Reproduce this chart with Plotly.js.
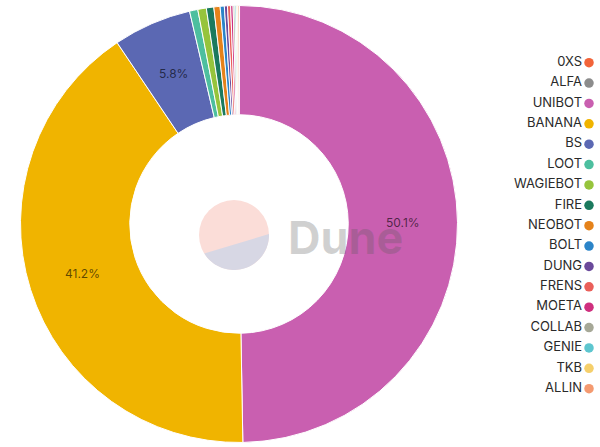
<!DOCTYPE html>
<html>
<head>
<meta charset="utf-8">
<script src="https://cdn.plot.ly/plotly-3.0.1.min.js"></script>
<style>html,body{margin:0;padding:0;background:#fff;}#chart{width:600px;height:447px;}</style>
</head>
<body>
<div id="chart"></div>
<script>
// ---- data ----
const labels = ["0XS","ALFA","UNIBOT","BANANA","BS","LOOT","WAGIEBOT","FIRE","NEOBOT","BOLT","DUNG","FRENS","MOETA","COLLAB","GENIE","TKB","ALLIN"];
// slice sizes as drawn in the picture (the chart gives tiny slices a minimum angle)
const sliceShares = [0.02, 0.02, 49.64, 40.83, 5.78, 0.61, 0.63, 0.55, 0.46, 0.31, 0.23, 0.23, 0.18, 0.13, 0.1, 0.1, 0.1];
// percentages printed on the chart
const shownPercent = [null, null, 50.1, 41.2, 5.8, null, null, null, null, null, null, null, null, null, null, null, null];
const colors = ["#f2643a","#8c8c8c","#c95fb0","#f0b400","#5b68b3","#4dbf9f","#96c43c","#1b7a5e","#e5821a","#2b84c8","#6a4a9b","#ea5f5a","#cf2f7e","#a6a897","#5dc6cf","#f5cf6b","#f49a70"];

const W = 600, H = 447;
const domX = [20.5/W, 457.5/W], domY = [4.5/H, 441.5/H];
const HOLE = 0.5;

const pie = {
  type: 'pie',
  labels: labels,
  values: sliceShares,
  textinfo: 'none',
  sort: false,
  direction: 'clockwise',
  rotation: 0,
  hole: HOLE,
  marker: {colors: colors, line: {color: '#ffffff', width: 1}},
  showlegend: false,
  domain: {x: domX, y: domY},
  hoverinfo: 'label'
};

// percent labels placed at each slice's mid-angle, mid-ring (derived from the slice data)
const pcx = (domX[0] + domX[1]) / 2 * W, pcy = (1 - (domY[0] + domY[1]) / 2) * H;
const R = (domY[1] - domY[0]) * H / 2, rMid = R * (1 + HOLE) / 2;
const totalShare = sliceShares.reduce((a, b) => a + b, 0);
let cum = 0;
const labelAnnots = [];
sliceShares.forEach((v, i) => {
  const mid = (cum + v / 2) / totalShare * 2 * Math.PI;
  cum += v;
  if (shownPercent[i] === null) return;
  labelAnnots.push({
    text: shownPercent[i].toFixed(1) + '%', xref: 'paper', yref: 'paper',
    x: (pcx + rMid * Math.sin(mid)) / W, y: 1 - (pcy - rMid * Math.cos(mid)) / H,
    xanchor: 'center', yanchor: 'middle', showarrow: false,
    font: {family: 'Inter, sans-serif', size: 12, color: 'rgba(0,0,0,0.62)'}
  });
});

// legend drawn as a scatter trace on its own axes
const legend = {
  type: 'scatter',
  mode: 'markers+text',
  x: labels.map(() => 0),
  y: labels.map((_, i) => i),
  text: labels,
  textposition: 'middle left',
  cliponaxis: false,
  textfont: {family: 'Inter, sans-serif', size: 13, color: '#2a2a2a'},
  marker: {color: colors, size: 9.5},
  xaxis: 'x', yaxis: 'y',
  showlegend: false,
  hoverinfo: 'text'
};

// Dune watermark (decoration)
const cx = 234, cy = 235, r = 35;
const a1 = Math.atan2(-1, 35), a2 = Math.atan2(18, -29);
let pts = [];
for (let k = 0; k <= 40; k++) {
  const a = a1 + (a2 - a1) * k / 40;
  pts.push([(cx + r*Math.cos(a))/W, 1 - (cy + r*Math.sin(a))/H]);
}
const lowerPath = 'M' + pts.map(p => p[0].toFixed(5) + ',' + p[1].toFixed(5)).join('L') + 'Z';

const layout = {
  width: W, height: H,
  margin: {l: 0, r: 0, t: 0, b: 0},
  paper_bgcolor: '#ffffff', plot_bgcolor: 'rgba(0,0,0,0)',
  showlegend: false,
  xaxis: {domain: [0.9, 1], range: [-4.9, 1.1], visible: false, fixedrange: true},
  yaxis: {domain: [0, 1], range: [18.86, -3.077], visible: false, fixedrange: true},
  shapes: [
    {type: 'circle', xref: 'paper', yref: 'paper', x0: (cx-r)/W, x1: (cx+r)/W, y0: 1-(cy+r)/H, y1: 1-(cy-r)/H,
     fillcolor: '#fbddd8', line: {width: 0}, layer: 'above'},
    {type: 'path', xref: 'paper', yref: 'paper', path: lowerPath, fillcolor: '#d7d7e4', line: {width: 0}, layer: 'above'}
  ],
  annotations: [
    {text: '<b>Dune</b>', xref: 'paper', yref: 'paper', x: 345/W, y: 1 - 237/H, xanchor: 'center', yanchor: 'middle',
     showarrow: false, font: {family: 'Inter, sans-serif', size: 45, color: 'rgba(90,90,90,0.28)'}}
  ].concat(labelAnnots)
};

Plotly.newPlot('chart', [pie, legend], layout, {displayModeBar: false, staticPlot: true});
</script>
</body>
</html>
